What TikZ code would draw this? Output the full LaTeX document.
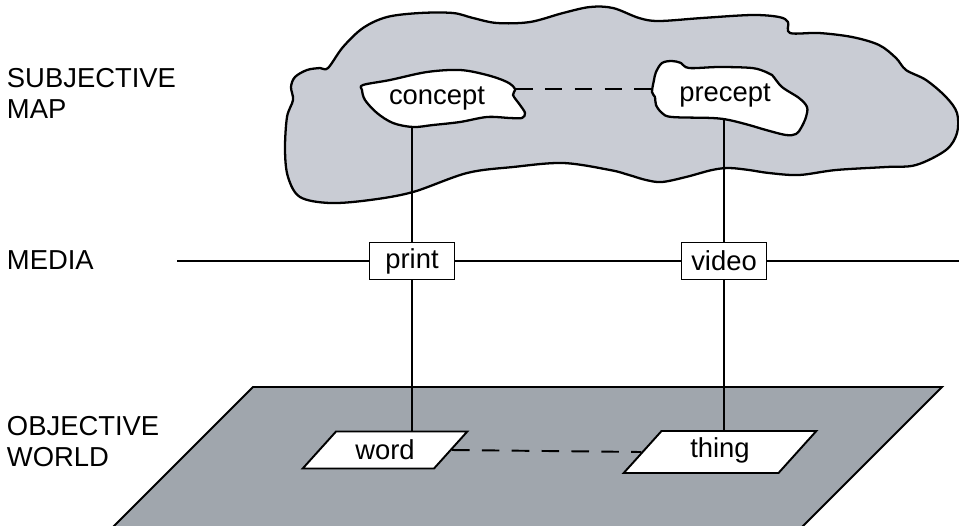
\documentclass[tikz,border=0pt]{standalone}
\usepackage{fontspec}
\setmainfont{Liberation Sans}
\usetikzlibrary{shapes.geometric}

\definecolor{mapgray}{RGB}{201,204,212}
\definecolor{worldgray}{RGB}{160,166,173}

\begin{document}
\begin{tikzpicture}[x=0.02cm, y=-0.02cm, line width=1.1pt,
    font=\fontsize{15.6}{18.1}\selectfont,
    level/.style={anchor=north west, inner sep=0pt, align=left},
    medium/.style={draw, fill=white, minimum width=1.7cm, minimum height=0.74cm, inner sep=0pt},
    worldbox/.style={draw, fill=white, trapezium, trapezium left angle=48, trapezium right angle=132,
        inner sep=0pt, align=center},
    outline/.style={draw, line width=1.3pt, line join=round},
    link/.style={dash pattern=on 10pt off 7pt}]
    \clip (0,0) rectangle (959,525);

    % objective world plane
    \filldraw[fill=worldgray] (253,387) -- (942,387) -- (784,545) -- (95,545) -- cycle;

    % subjective map cloud
    \path[outline, fill=mapgray] plot[smooth cycle, tension=0.55] coordinates {
        (293,100) (291,87) (295,77) (307,70) (320,68) (328,68) (343,47) (363,28) (387,17)
        (420,13) (453,13) (473,18) (497,23) (530,22) (563,13) (590,7) (613,8) (639,18)
        (659,21) (702,18) (752,15) (779,17) (788,22) (790,33) (819,33) (852,37) (879,45)
        (896,58) (906,70) (926,80) (946,97) (957,113) (957,133) (946,150) (916,165)
        (886,167) (836,170) (799,175) (769,173) (749,170) (729,168) (712,170) (686,177)
        (662,182) (646,180) (629,175) (610,170) (563,163) (513,167) (467,173) (413,192)
        (370,200) (330,203) (300,197) (288,177) (285,150) (287,117)};
    \path[outline, fill=white] plot[smooth cycle, tension=0.55] coordinates {
        (363,85) (390,80) (427,72) (460,70) (487,75) (507,82) (515,89) (513,95) (520,105)
        (525,113) (522,118) (510,118) (487,117) (460,122) (433,125) (413,127) (393,123)
        (377,113) (365,100) (362,90)};
    \path[outline, fill=white] plot[smooth cycle, tension=0.55] coordinates {
        (652,92) (654,80) (656,72) (662,63) (672,61) (681,63) (689,68) (719,67) (752,68)
        (766,72) (772,75) (782,87) (799,98) (807,107) (806,117) (801,128) (796,134)
        (786,135) (766,130) (749,125) (729,120) (712,118) (672,117) (662,113) (656,105)
        (655,97)};

    \node[level] (subjective) at (6,67) {SUBJECTIVE\\MAP};
    \node[level] (media) at (6,250) {MEDIA};
    \node[level] (objective) at (6,415) {OBJECTIVE\\WORLD};

    \node[anchor=base] (concept) at (437,104) {concept};
    \node[anchor=base] (precept) at (725,101) {precept};
    \coordinate (concept-s) at (412,127);
    \coordinate (concept-e) at (515,89);
    \coordinate (precept-w) at (653,89);
    \coordinate (precept-s) at (724,118);

    \node[medium] (print) at (412,261) {print};
    \node[medium] (video) at (724,261) {video};
    \coordinate (media-w) at (177,261);
    \coordinate (media-e) at (959,261);

    \node[worldbox, text width=1.96cm, text height=0.56cm, text depth=0.18cm] (word) at (385,450) {word};
    \node[worldbox, text width=2.34cm, text height=0.52cm, text depth=0.32cm] (thing) at (720,452) {thing};

    \draw (media-w) -- (print) -- (video) -- (media-e);
    \draw (concept-s) -- (print);
    \draw (print) -- (print |- word.north);
    \draw (precept-s) -- (video);
    \draw (video) -- (video |- thing.north);
    \draw[link] (concept-e) -- (precept-w);
    \draw[link] (word.east) -- (thing.west);
\end{tikzpicture}
\end{document}
